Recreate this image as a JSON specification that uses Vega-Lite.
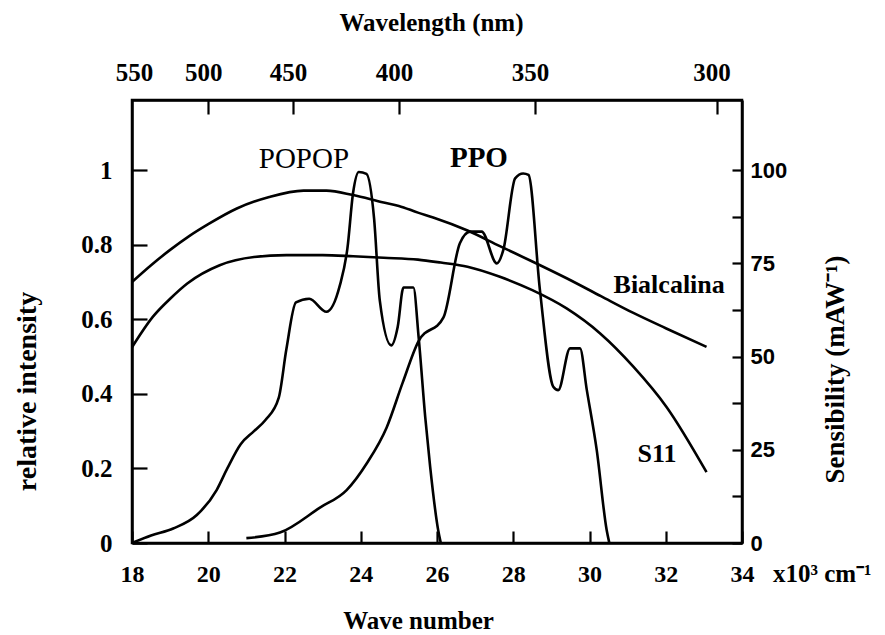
{
  "$schema": "https://vega.github.io/schema/vega-lite/v6.json",
  "width": 610,
  "height": 443,
  "autosize": {"type": "none"},
  "padding": {"left": 132, "top": 100, "right": 143, "bottom": 92},
  "background": "white",
  "config": {
    "view": {"stroke": "black", "strokeWidth": 2.5},
    "axis": {
      "grid": false,
      "domainColor": "black",
      "domainWidth": 2.5,
      "tickColor": "black",
      "tickWidth": 2.2,
      "labelColor": "black",
      "titleColor": "black",
      "labelFont": "Liberation Serif",
      "labelFontWeight": "bold",
      "titleFont": "Liberation Serif",
      "titleFontWeight": "bold",
      "labelFlush": false,
      "labelOverlap": false,
      "labelBound": false,
      "titleAlign": "center",
      "titleBaseline": "alphabetic"
    }
  },
  "datasets": {
    "curves": [
      {"series": "Bialcalina", "wn": 18.0, "v": 0.70},
      {"series": "Bialcalina", "wn": 18.5, "v": 0.745},
      {"series": "Bialcalina", "wn": 19.0, "v": 0.786},
      {"series": "Bialcalina", "wn": 19.5, "v": 0.823},
      {"series": "Bialcalina", "wn": 20.0, "v": 0.855},
      {"series": "Bialcalina", "wn": 20.75, "v": 0.897},
      {"series": "Bialcalina", "wn": 21.6, "v": 0.928},
      {"series": "Bialcalina", "wn": 22.5, "v": 0.945},
      {"series": "Bialcalina", "wn": 23.1, "v": 0.945},
      {"series": "Bialcalina", "wn": 23.8, "v": 0.933},
      {"series": "Bialcalina", "wn": 24.6, "v": 0.913},
      {"series": "Bialcalina", "wn": 25.0, "v": 0.904},
      {"series": "Bialcalina", "wn": 25.5, "v": 0.886},
      {"series": "Bialcalina", "wn": 25.9, "v": 0.873},
      {"series": "Bialcalina", "wn": 26.8, "v": 0.838},
      {"series": "Bialcalina", "wn": 27.65, "v": 0.796},
      {"series": "Bialcalina", "wn": 28.5, "v": 0.755},
      {"series": "Bialcalina", "wn": 29.4, "v": 0.71},
      {"series": "Bialcalina", "wn": 30.3, "v": 0.662},
      {"series": "Bialcalina", "wn": 31.15, "v": 0.617},
      {"series": "Bialcalina", "wn": 32.0, "v": 0.576},
      {"series": "Bialcalina", "wn": 33.07, "v": 0.526},
      {"series": "S11", "wn": 18.0, "v": 0.525},
      {"series": "S11", "wn": 18.55, "v": 0.607},
      {"series": "S11", "wn": 19.0, "v": 0.655},
      {"series": "S11", "wn": 19.45, "v": 0.696},
      {"series": "S11", "wn": 20.3, "v": 0.745},
      {"series": "S11", "wn": 21.2, "v": 0.767},
      {"series": "S11", "wn": 22.05, "v": 0.772},
      {"series": "S11", "wn": 23.0, "v": 0.772},
      {"series": "S11", "wn": 23.8, "v": 0.769},
      {"series": "S11", "wn": 24.6, "v": 0.765},
      {"series": "S11", "wn": 25.5, "v": 0.76},
      {"series": "S11", "wn": 26.1, "v": 0.752},
      {"series": "S11", "wn": 26.8, "v": 0.741},
      {"series": "S11", "wn": 27.65, "v": 0.714},
      {"series": "S11", "wn": 28.5, "v": 0.678},
      {"series": "S11", "wn": 29.4, "v": 0.629},
      {"series": "S11", "wn": 30.28, "v": 0.562},
      {"series": "S11", "wn": 31.15, "v": 0.473},
      {"series": "S11", "wn": 32.02, "v": 0.365},
      {"series": "S11", "wn": 33.07, "v": 0.19},
      {"series": "POPOP", "wn": 18.0, "v": 0.0},
      {"series": "POPOP", "wn": 18.5, "v": 0.02},
      {"series": "POPOP", "wn": 19.08, "v": 0.039},
      {"series": "POPOP", "wn": 19.7, "v": 0.075},
      {"series": "POPOP", "wn": 20.22, "v": 0.142},
      {"series": "POPOP", "wn": 20.5, "v": 0.2},
      {"series": "POPOP", "wn": 20.85, "v": 0.265},
      {"series": "POPOP", "wn": 21.2, "v": 0.3},
      {"series": "POPOP", "wn": 21.5, "v": 0.33},
      {"series": "POPOP", "wn": 21.85, "v": 0.39},
      {"series": "POPOP", "wn": 22.05, "v": 0.52},
      {"series": "POPOP", "wn": 22.3, "v": 0.645},
      {"series": "POPOP", "wn": 22.65, "v": 0.655},
      {"series": "POPOP", "wn": 23.1, "v": 0.62},
      {"series": "POPOP", "wn": 23.45, "v": 0.69},
      {"series": "POPOP", "wn": 23.65, "v": 0.79},
      {"series": "POPOP", "wn": 23.8, "v": 0.94},
      {"series": "POPOP", "wn": 23.95, "v": 0.995},
      {"series": "POPOP", "wn": 24.15, "v": 0.99},
      {"series": "POPOP", "wn": 24.35, "v": 0.87},
      {"series": "POPOP", "wn": 24.5, "v": 0.65},
      {"series": "POPOP", "wn": 24.8, "v": 0.53},
      {"series": "POPOP", "wn": 24.97, "v": 0.58},
      {"series": "POPOP", "wn": 25.12, "v": 0.685},
      {"series": "POPOP", "wn": 25.38, "v": 0.685},
      {"series": "POPOP", "wn": 25.52, "v": 0.55},
      {"series": "POPOP", "wn": 25.69, "v": 0.339},
      {"series": "POPOP", "wn": 25.82, "v": 0.205},
      {"series": "POPOP", "wn": 26.03, "v": 0.035},
      {"series": "POPOP", "wn": 26.1, "v": 0.0},
      {"series": "PPO", "wn": 21.0, "v": 0.013},
      {"series": "PPO", "wn": 21.88, "v": 0.028},
      {"series": "PPO", "wn": 22.93, "v": 0.095},
      {"series": "PPO", "wn": 23.63, "v": 0.142},
      {"series": "PPO", "wn": 24.16, "v": 0.214},
      {"series": "PPO", "wn": 24.68, "v": 0.31},
      {"series": "PPO", "wn": 25.1, "v": 0.43},
      {"series": "PPO", "wn": 25.51, "v": 0.54},
      {"series": "PPO", "wn": 26.17, "v": 0.605},
      {"series": "PPO", "wn": 26.6, "v": 0.804},
      {"series": "PPO", "wn": 26.87, "v": 0.835},
      {"series": "PPO", "wn": 27.17, "v": 0.835},
      {"series": "PPO", "wn": 27.57, "v": 0.75},
      {"series": "PPO", "wn": 27.74, "v": 0.786},
      {"series": "PPO", "wn": 28.05, "v": 0.978},
      {"series": "PPO", "wn": 28.26, "v": 0.991},
      {"series": "PPO", "wn": 28.4, "v": 0.987},
      {"series": "PPO", "wn": 28.7, "v": 0.678},
      {"series": "PPO", "wn": 29.05, "v": 0.419},
      {"series": "PPO", "wn": 29.18, "v": 0.41},
      {"series": "PPO", "wn": 29.49, "v": 0.522},
      {"series": "PPO", "wn": 29.75, "v": 0.522},
      {"series": "PPO", "wn": 29.93, "v": 0.41},
      {"series": "PPO", "wn": 30.19, "v": 0.249},
      {"series": "PPO", "wn": 30.45, "v": 0.035},
      {"series": "PPO", "wn": 30.52, "v": 0.0}
    ],
    "notes": [
      {"label": "POPOP", "wn": 22.51, "v": 1.005},
      {"label": "PPO", "wn": 27.1, "v": 1.008},
      {"label": "Bialcalina", "wn": 32.09, "v": 0.67},
      {"label": "S11", "wn": 31.77, "v": 0.217},
      {"label": "x10³ cm⁻¹", "wn": 34.81, "v": -0.105}
    ]
  },
  "resolve": {"axis": {"x": "independent", "y": "independent"}},
  "layer": [
    {
      "data": {"name": "curves"},
      "mark": {"type": "line", "interpolate": "monotone", "clip": true},
      "encoding": {
        "x": {
          "field": "wn", "type": "quantitative",
          "scale": {"domain": [18, 34], "nice": false, "zero": false},
          "axis": {
            "orient": "bottom",
            "values": [18, 20, 22, 24, 26, 28, 30, 32, 34],
            "format": "d",
            "tickSize": -12,
            "labelPadding": 31,
            "labelBaseline": "top",
            "labelFontSize": 24,
            "title": "Wave number",
            "titleFontSize": 25,
            "titleX": 286,
            "titleY": 85
          }
        },
        "y": {
          "field": "v", "type": "quantitative",
          "scale": {"domain": [0, 1.188], "nice": false, "zero": false},
          "axis": {
            "orient": "left",
            "values": [0, 0.2, 0.4, 0.6, 0.8, 1],
            "format": "~g",
            "tickSize": -15,
            "labelPadding": 35,
            "labelFontSize": 25,
            "title": "relative intensity",
            "titleFontSize": 28,
            "titleAngle": -90,
            "titleX": -97,
            "titleY": 291
          }
        },
        "detail": {"field": "series", "type": "nominal"},
        "color": {"value": "black"},
        "strokeWidth": {
          "field": "series", "type": "nominal",
          "scale": {"domain": ["POPOP", "PPO", "Bialcalina", "S11"], "range": [2.6, 2.6, 1.8, 1.8]},
          "legend": null
        }
      }
    },
    {
      "data": {"name": "notes"},
      "transform": [{"filter": "datum.label == 'POPOP'"}],
      "mark": {"type": "text", "font": "Liberation Serif", "fontSize": 29, "align": "center", "baseline": "alphabetic", "color": "black"},
      "encoding": {
        "x": {
          "field": "wn", "type": "quantitative",
          "scale": {"domain": [18, 34], "nice": false, "zero": false},
          "axis": {
            "orient": "top",
            "values": [18.182, 20, 22.222, 25, 28.571, 33.333],
            "labelExpr": "format(10000 / datum.value, '.0f')",
            "tickSize": -14,
            "labelPadding": 34,
            "labelBaseline": "alphabetic",
            "labelOffset": -5,
            "labelFontSize": 25,
            "tickOpacity": {"condition": {"test": "datum.value < 19", "value": 0}, "value": 1},
            "title": "Wavelength (nm)",
            "titleFontSize": 25,
            "titleX": 299,
            "titleY": -70
          }
        },
        "y": {
          "field": "v", "type": "quantitative",
          "scale": {"domain": [0, 1.188], "nice": false, "zero": false},
          "axis": {
            "orient": "right",
            "values": [0, 0.125, 0.25, 0.375, 0.5, 0.625, 0.75, 0.875, 1],
            "labelExpr": "(datum.value * 100) % 25 == 0 ? format(datum.value * 100, 'd') : ''",
            "tickSize": -10,
            "labelPadding": 18,
            "labelFont": "Liberation Sans",
            "labelFontSize": 22,
            "title": "Sensibility (mAW⁻¹)",
            "titleFontSize": 27,
            "titleAngle": -90,
            "titleX": 101,
            "titleY": 269
          }
        },
        "text": {"field": "label", "type": "nominal"}
      }
    },
    {
      "data": {"name": "notes"},
      "transform": [{"filter": "datum.label == 'PPO'"}],
      "mark": {"type": "text", "font": "Liberation Serif", "fontWeight": "bold", "fontSize": 29, "align": "center", "baseline": "alphabetic", "color": "black"},
      "encoding": {
        "x": {"field": "wn", "type": "quantitative", "scale": {"domain": [18, 34], "nice": false, "zero": false}, "axis": null},
        "y": {"field": "v", "type": "quantitative", "scale": {"domain": [0, 1.188], "nice": false, "zero": false}, "axis": null},
        "text": {"field": "label", "type": "nominal"}
      }
    },
    {
      "data": {"name": "notes"},
      "transform": [{"filter": "datum.label == 'Bialcalina' || datum.label == 'S11'"}],
      "mark": {"type": "text", "font": "Liberation Serif", "fontWeight": "bold", "fontSize": 26, "align": "center", "baseline": "alphabetic", "color": "black"},
      "encoding": {
        "x": {"field": "wn", "type": "quantitative", "scale": {"domain": [18, 34], "nice": false, "zero": false}, "axis": null},
        "y": {"field": "v", "type": "quantitative", "scale": {"domain": [0, 1.188], "nice": false, "zero": false}, "axis": null},
        "text": {"field": "label", "type": "nominal"}
      }
    },
    {
      "data": {"name": "notes"},
      "transform": [{"filter": "datum.label == 'x10³ cm⁻¹'"}],
      "mark": {"type": "text", "font": "Liberation Serif", "fontWeight": "bold", "fontSize": 25, "align": "left", "baseline": "alphabetic", "color": "black"},
      "encoding": {
        "x": {"field": "wn", "type": "quantitative", "scale": {"domain": [18, 34], "nice": false, "zero": false}, "axis": null},
        "y": {"field": "v", "type": "quantitative", "scale": {"domain": [0, 1.188], "nice": false, "zero": false}, "axis": null},
        "text": {"field": "label", "type": "nominal"}
      }
    }
  ]
}
